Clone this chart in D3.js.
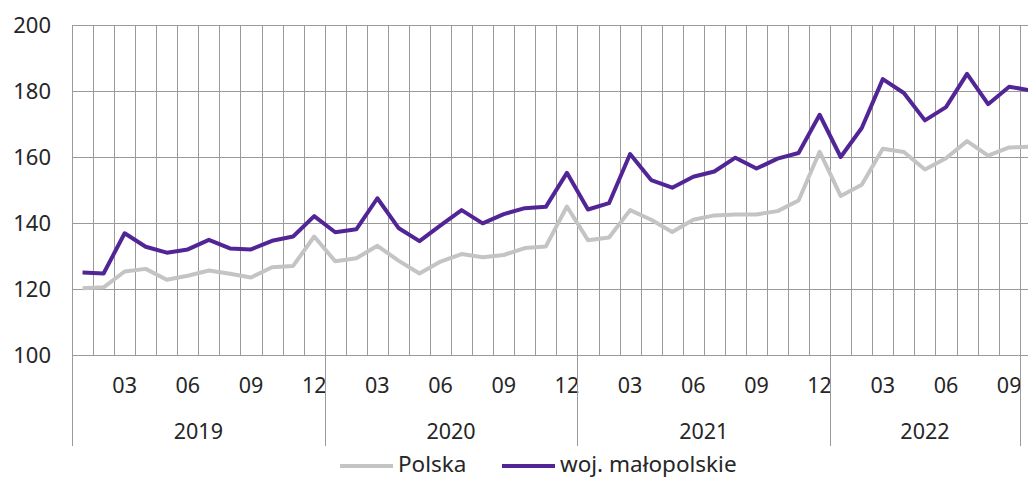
<!DOCTYPE html>
<html>
<head>
<meta charset="utf-8">
<script src="https://cdnjs.cloudflare.com/ajax/libs/d3/7.8.5/d3.min.js"></script>
<style>
  html, body { margin: 0; padding: 0; background: #fff; }
  svg { display: block; font-family: "Noto Sans", sans-serif; }
</style>
</head>
<body>
<svg id="chart" width="1028" height="479"></svg>
<script>
// month labels of the category axis (2019-01 .. 2022-10)
const months = [
  '01','02','03','04','05','06','07','08','09','10','11','12',
  '01','02','03','04','05','06','07','08','09','10','11','12',
  '01','02','03','04','05','06','07','08','09','10','11','12',
  '01','02','03','04','05','06','07','08','09','10'
];

// outer axis groups and how many months each spans
const yearLabels = ['2019', '2020', '2021', '2022', ''];
const yearSpans  = [12, 12, 12, 9, 1];

const polska = [
  120.2, 120.5, 125.3, 126.1, 122.8, 124.0, 125.6, 124.6, 123.5, 126.6, 127.0, 135.9,
  128.4, 129.3, 133.1, 128.6, 124.7, 128.3, 130.6, 129.6, 130.3, 132.4, 132.9, 145.0,
  134.8, 135.6, 143.9, 141.0, 137.3, 141.0, 142.3, 142.6, 142.6, 143.6, 146.8, 161.6,
  148.2, 151.6, 162.5, 161.5, 156.2, 159.6, 164.8, 160.4, 162.9, 163.1
];

const malopolskie = [
  125.0, 124.7, 136.9, 132.8, 131.0, 132.0, 134.9, 132.3, 132.0, 134.6, 135.9, 142.1,
  137.2, 138.1, 147.5, 138.5, 134.5, 139.3, 143.9, 139.9, 142.7, 144.5, 144.9, 155.2,
  144.1, 146.0, 160.9, 153.0, 150.7, 154.0, 155.6, 159.8, 156.5, 159.5, 161.2, 172.8,
  160.0, 168.8, 183.6, 179.4, 171.1, 175.1, 185.2, 176.0, 181.3, 180.2
];

const yTicks = [100, 120, 140, 160, 180, 200];

const seriesNames  = ['Polska', 'woj. małopolskie'];
const seriesColors = ['#c4c4c4', '#522597'];

const chartWidth = 1028;
const plotLeft   = 72;
const plotTop    = 25;
const plotBottom = 355;
const monthStep  = 21.06;

const svg = d3.select('#chart');

const x = d3.scaleBand()
  .domain(d3.range(months.length))
  .range([plotLeft, plotLeft + monthStep * months.length])
  .paddingInner(0)
  .paddingOuter(0);

const y = d3.scaleLinear()
  .domain([100, 200])
  .range([plotBottom, plotTop]);

const gridColor = '#9a9a9a';
const textColor = '#262626';

// horizontal grid
svg.append('g')
  .selectAll('line')
  .data(yTicks)
  .enter()
  .append('line')
  .attr('x1', plotLeft)
  .attr('x2', chartWidth)
  .attr('y1', (d) => Math.round(y(d)) + 0.5)
  .attr('y2', (d) => Math.round(y(d)) + 0.5)
  .style('stroke', gridColor)
  .style('stroke-width', 1);

// vertical grid at month boundaries
const boundaries = d3.range(months.length + 1).map((i) => plotLeft + i * x.bandwidth());

svg.append('g')
  .selectAll('line')
  .data(boundaries)
  .enter()
  .append('line')
  .attr('x1', (d) => Math.round(d) + 0.5)
  .attr('x2', (d) => Math.round(d) + 0.5)
  .attr('y1', plotTop)
  .attr('y2', plotBottom)
  .style('stroke', gridColor)
  .style('stroke-width', 1);

// y labels
svg.append('g')
  .selectAll('text')
  .data(yTicks)
  .enter()
  .append('text')
  .attr('x', 51)
  .attr('y', (d) => y(d))
  .attr('dy', '0.36em')
  .attr('text-anchor', 'end')
  .style('font-size', '22px')
  .style('fill', textColor)
  .text((d) => d);

// month labels (every third month)
svg.append('g')
  .selectAll('text')
  .data(months.map((m, i) => ({m, i})).filter((d) => +d.m % 3 === 0))
  .enter()
  .append('text')
  .attr('x', (d) => x(d.i) + x.bandwidth() / 2)
  .attr('y', 393)
  .attr('text-anchor', 'middle')
  .style('font-size', '21.5px')
  .style('fill', textColor)
  .text((d) => d.m);

// year groups
let start = 0;
const groups = yearLabels.map((label, k) => {
  const g = {label, from: start, to: start + yearSpans[k]};
  start += yearSpans[k];
  return g;
});

const dividers = [plotLeft].concat(groups.slice(0, -1).map((g) => plotLeft + g.to * x.bandwidth()));

svg.append('g')
  .selectAll('line')
  .data(dividers)
  .enter()
  .append('line')
  .attr('x1', (d) => Math.round(d) + 0.5)
  .attr('x2', (d) => Math.round(d) + 0.5)
  .attr('y1', plotBottom)
  .attr('y2', 446)
  .style('stroke', gridColor)
  .style('stroke-width', 1);

svg.append('g')
  .selectAll('text')
  .data(groups)
  .enter()
  .append('text')
  .attr('x', (d) => plotLeft + (d.from + d.to) / 2 * x.bandwidth())
  .attr('y', 439)
  .attr('text-anchor', 'middle')
  .style('font-size', '21.5px')
  .style('fill', textColor)
  .text((d) => d.label);

// lines
const line = d3.line()
  .x((d, i) => x(i) + x.bandwidth() / 2)
  .y((d) => y(d));

[polska, malopolskie].forEach((values, k) => {
  svg.append('path')
    .datum(values)
    .attr('d', line)
    .style('fill', 'none')
    .style('stroke', seriesColors[k])
    .style('stroke-width', 4)
    .style('stroke-linejoin', 'round');
});

// legend
const legendItems = [
  {x: 340, textX: 398},
  {x: 502, textX: 560}
];

const legend = svg.append('g').attr('class', 'legend');

legendItems.forEach((item, k) => {
  legend.append('line')
    .attr('x1', item.x)
    .attr('x2', item.x + 53)
    .attr('y1', 466)
    .attr('y2', 466)
    .style('stroke', seriesColors[k])
    .style('stroke-width', 4);
  legend.append('text')
    .attr('x', item.textX)
    .attr('y', 472)
    .style('font-size', '22.5px')
    .style('fill', textColor)
    .text(seriesNames[k]);
});
</script>
</body>
</html>
